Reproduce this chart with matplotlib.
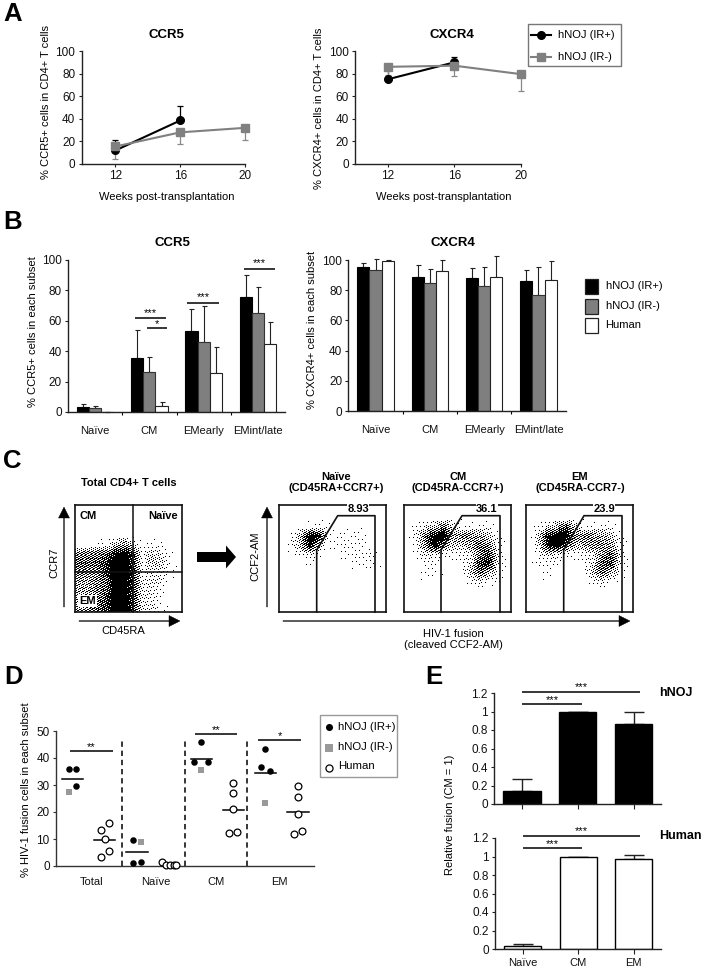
import numpy as np
import matplotlib
matplotlib.use("Agg")
import matplotlib.pyplot as plt
from matplotlib.patches import Rectangle, FancyArrow

plt.rcParams["font.family"] = ["Liberation Sans", "DejaVu Sans"]

W, H = 708, 969

#---------------------------------
# DATA
#---------------------------------

# A: time course
weeks = [12, 16, 20]
a_ccr5_pos = [12, 38.5]
a_ccr5_pos_top = [21, 51]
a_ccr5_neg = [15.5, 28, 32]
a_ccr5_neg_low = [4, 18, 21]
a_cxcr4_pos = [75, 90]
a_cxcr4_pos_top = [88, 95]
a_cxcr4_neg = [86, 87, 79.5]
a_cxcr4_neg_low = [79, 78, 65]

# B: subsets
b_labels = ["Naïve", "CM", "EMearly", "EMint/late"]
b_ccr5_pos = [3, 35.5, 53, 75.5]
b_ccr5_neg = [2.5, 26.5, 46, 65]
b_ccr5_hum = [0.3, 4, 25.5, 44.5]
b_ccr5_pos_top = [5.5, 54, 67.5, 90]
b_ccr5_neg_top = [4, 36.5, 69.5, 82]
b_ccr5_hum_top = [0.3, 6.5, 43, 59]
b_cxcr4_pos = [95.5, 89, 88, 86]
b_cxcr4_neg = [93.5, 85, 82.5, 77]
b_cxcr4_hum = [99.5, 92.5, 89, 87]
b_cxcr4_pos_top = [98, 96.5, 95, 93.5]
b_cxcr4_neg_top = [100.5, 94, 95.5, 95.5]
b_cxcr4_hum_top = [100, 100, 102.5, 99.5]

# C: dot density, 0 = empty, 9 = solid (rows top to bottom)
c_total = [
    [0, 0, 0, 0, 0, 0, 0, 0, 0, 0, 0, 0],
    [0, 0, 0, 0, 0, 0, 0, 0, 0, 0, 0, 0],
    [0, 0, 0, 0, 0, 0, 0, 0, 0, 0, 0, 0],
    [0, 0, 0, 0, 0, 0, 0, 0, 0, 0, 0, 0],
    [0, 0, 1, 1, 3, 5, 3, 0, 1, 1, 0, 0],
    [5, 5, 5, 6, 8, 9, 7, 1, 3, 2, 1, 0],
    [6, 6, 6, 7, 9, 9, 7, 1, 3, 3, 1, 0],
    [5, 5, 5, 7, 9, 9, 7, 1, 2, 2, 1, 0],
    [4, 4, 5, 6, 9, 9, 7, 2, 2, 2, 0, 0],
    [4, 4, 5, 6, 9, 9, 7, 2, 2, 1, 0, 0],
    [4, 4, 5, 7, 9, 9, 7, 2, 2, 1, 0, 0],
    [4, 5, 6, 7, 9, 9, 7, 2, 2, 1, 0, 0],
]
c_naive = [
    [0, 0, 0, 0, 0, 0, 0, 0, 0, 0, 0, 0],
    [0, 0, 0, 0, 0, 0, 0, 0, 0, 0, 0, 0],
    [0, 0, 0, 1, 1, 1, 0, 0, 0, 0, 0, 0],
    [0, 1, 4, 9, 8, 1, 1, 1, 1, 1, 0, 0],
    [0, 1, 4, 8, 3, 0, 1, 1, 1, 1, 0, 0],
    [0, 0, 1, 2, 1, 0, 0, 1, 1, 1, 1, 0],
    [0, 0, 0, 1, 0, 0, 0, 0, 1, 1, 1, 0],
    [0, 0, 0, 0, 0, 0, 0, 0, 0, 0, 0, 0],
    [0, 0, 0, 0, 0, 0, 0, 0, 0, 0, 0, 0],
    [0, 0, 0, 0, 0, 0, 0, 0, 0, 0, 0, 0],
    [0, 0, 0, 0, 0, 0, 0, 0, 0, 0, 0, 0],
    [0, 0, 0, 0, 0, 0, 0, 0, 0, 0, 0, 0],
]
c_cm = [
    [0, 0, 0, 0, 0, 0, 0, 0, 0, 0, 0, 0],
    [0, 0, 0, 0, 0, 0, 0, 0, 0, 0, 0, 0],
    [0, 1, 2, 3, 6, 2, 1, 1, 1, 1, 0, 0],
    [0, 2, 6, 9, 9, 4, 5, 5, 4, 3, 1, 0],
    [0, 1, 5, 9, 5, 3, 3, 4, 6, 5, 1, 0],
    [0, 1, 2, 2, 1, 1, 1, 2, 5, 7, 2, 0],
    [0, 0, 1, 1, 0, 0, 1, 2, 7, 8, 2, 0],
    [0, 0, 1, 1, 0, 0, 0, 3, 6, 4, 1, 0],
    [0, 0, 0, 0, 0, 0, 0, 1, 2, 1, 1, 0],
    [0, 0, 0, 0, 0, 0, 0, 0, 0, 0, 0, 0],
    [0, 0, 0, 0, 0, 0, 0, 0, 0, 0, 0, 0],
    [0, 0, 0, 0, 0, 0, 0, 0, 0, 0, 0, 0],
]
c_em = [
    [0, 0, 0, 0, 0, 0, 0, 0, 0, 0, 0, 0],
    [0, 0, 0, 0, 0, 0, 0, 0, 0, 0, 0, 0],
    [0, 1, 2, 4, 7, 3, 1, 1, 1, 1, 0, 0],
    [0, 3, 8, 9, 9, 5, 5, 5, 4, 3, 1, 0],
    [0, 2, 8, 9, 6, 3, 4, 5, 5, 4, 1, 0],
    [0, 1, 3, 2, 1, 1, 1, 2, 4, 6, 2, 0],
    [0, 1, 1, 1, 0, 0, 1, 2, 6, 7, 2, 0],
    [0, 0, 1, 0, 0, 0, 0, 3, 6, 4, 1, 0],
    [0, 0, 0, 0, 0, 0, 0, 1, 2, 1, 0, 0],
    [0, 0, 0, 0, 0, 0, 0, 0, 0, 0, 0, 0],
    [0, 0, 0, 0, 0, 0, 0, 0, 0, 0, 0, 0],
    [0, 0, 0, 0, 0, 0, 0, 0, 0, 0, 0, 0],
]
c_headers = ["Naïve\n(CD45RA+CCR7+)", "CM\n(CD45RA-CCR7+)", "EM\n(CD45RA-CCR7-)"]
c_gate_values = ["8.93", "36.1", "23.9"]

# D: fusion scatter, x in strip positions (axis runs 168..943)
d_labels = ["Total", "Naïve", "CM", "EM"]
d_label_x = [275, 467, 650, 838]
d_black_x = [206, 229, 229, 399, 399, 423, 604, 584, 624, 797, 785, 810]
d_black_y = [36, 36, 29.7, 9.7, 1, 1.6, 46, 38.4, 38.4, 43.2, 36.5, 35.2]
d_gray_x = [206, 423, 604, 797]
d_gray_y = [27.5, 8.9, 35.5, 23.5]
d_human_x = [326, 302, 314, 326, 302, 487, 498, 510, 522, 528,
             701, 701, 701, 689, 713, 895, 895, 895, 882, 907]
d_human_y = [15.8, 13.2, 10, 5.7, 3.3, 1.4, 0.3, 0.3, 0.3, 0.5,
             30.7, 27.2, 21, 12.3, 12.5, 29.5, 25.5, 19.4, 11.9, 13.1]
d_mean_x = [218, 314, 411, 605, 701, 797, 895]
d_mean_y = [32.4, 9.7, 5.3, 39.6, 20.7, 34.5, 19.9]

# E: relative fusion
e_labels = ["Naïve", "CM", "EM"]
e_hnoj = [0.145, 1, 0.87]
e_hnoj_top = [0.27, 1, 1.0]
e_human = [0.03, 1, 0.97]
e_human_top = [0.05, 1, 1.02]
e_ticks = [0, 0.2, 0.4, 0.6, 0.8, 1, 1.2]
e_ticklabels = ["0", "0.2", "0.4", "0.6", "0.8", "1", "1.2"]

#---------------------------------
# HELPERS
#---------------------------------

def axes_px(fig, x0, x1, y_top, y_bot):
	return fig.add_axes([x0/W, 1 - y_bot/H, (x1 - x0)/W, (y_bot - y_top)/H])


def clean_axes(ax, size=8.5, lw=1.0, color="#222222"):
	ax.spines["top"].set_visible(False)
	ax.spines["right"].set_visible(False)
	ax.spines["left"].set_linewidth(lw)
	ax.spines["bottom"].set_linewidth(lw)
	ax.spines["left"].set_color(color)
	ax.spines["bottom"].set_color(color)
	ax.tick_params(labelsize=size, length=2.5, width=0.8, pad=2, color=color, labelcolor="#111111")
	ax.patch.set_alpha(0)


def one_sided(ax, x, y, end, color, cap=2.2, lw=0.9):
	# error bars going from the mean to a single read end value
	y = np.array(y, dtype=float)
	end = np.array(end, dtype=float)
	low = np.clip(y - end, 0, None)
	up = np.clip(end - y, 0, None)
	cont = ax.errorbar(x, y, yerr=[low, up], fmt="none", ecolor=color, elinewidth=lw,
		capsize=cap, capthick=lw, zorder=1)
	for art in cont.lines[1] + cont.lines[2]:
		art.set_clip_on(False)


def sig_bar(ax, x0, x1, y, label, off=0.0):
	ax.plot([x0, x1], [y, y], color="k", lw=1.1, clip_on=False, solid_capstyle="butt")
	ax.text((x0 + x1)/2, y + off, label, ha="center", va="center", fontsize=8, clip_on=False)


def time_panel(fig, x0, x1, tx0, tx1, pos, pos_end, neg, neg_end):
	ax = axes_px(fig, x0, x1, 51, 164)
	clean_axes(ax)
	scale = (tx1 - tx0)/8.0
	ax.set_xlim(12 - (tx0 - x0)/scale, 20)
	ax.set_ylim(0, 100)
	one_sided(ax, weeks[:2], pos, pos_end, "k")
	one_sided(ax, weeks, neg, neg_end, "#888888")
	ax.plot(weeks[:2], pos, "-o", color="k", lw=1.5, ms=5.5, clip_on=False, zorder=3)
	ax.plot(weeks, neg, "-s", color="#808080", lw=1.5, ms=5.5, clip_on=False, zorder=4)
	ax.set_xticks(weeks)
	ax.set_yticks(range(0, 101, 20))
	return ax


def subset_panel(fig, x0, x1, y_top, y_bot, pos, neg, hum, pos_end, neg_end, hum_end):
	ax = axes_px(fig, x0, x1, y_top, y_bot)
	clean_axes(ax)
	x = np.arange(4)
	bw = 0.225
	ax.bar(x - bw, pos, bw, color="k", edgecolor="k", lw=0.8, zorder=2)
	ax.bar(x, neg, bw, color="#7f7f7f", edgecolor="#333333", lw=0.8, zorder=2)
	ax.bar(x + bw, hum, bw, color="white", edgecolor="#222222", lw=0.8, zorder=2)
	one_sided(ax, x - bw, pos, pos_end, "#222222", cap=1.8, lw=0.8)
	one_sided(ax, x, neg, neg_end, "#222222", cap=1.8, lw=0.8)
	one_sided(ax, x + bw, hum, hum_end, "#222222", cap=1.8, lw=0.8)
	ax.set_xlim(-0.5, 3.5)
	ax.set_ylim(0, 100)
	ax.set_yticks(range(0, 101, 20))
	ax.set_xticks(x)
	ax.set_xticklabels(b_labels, fontsize=8)
	ax.tick_params(axis="x", length=0, pad=10)
	ax.set_xticks([0.5, 1.5, 2.5], minor=True)
	ax.tick_params(axis="x", which="minor", length=2, width=0.8)
	return ax


def stipple(grid, nx, ny):
	# spread the read density over the panel pixels, then break it into dots with
	# a fixed low-discrepancy threshold, so the result is the same on every run
	g = (np.array(grid, dtype=float)/9.0)**1.4
	xs = (np.arange(nx) + 0.5)/nx*g.shape[1] - 0.5
	ys = (np.arange(ny) + 0.5)/ny*g.shape[0] - 0.5
	by_row = np.array([np.interp(xs, np.arange(g.shape[1]), r) for r in g])
	fine = np.array([np.interp(ys, np.arange(g.shape[0]), c) for c in by_row.T]).T
	jj, ii = np.meshgrid(np.arange(nx), np.arange(ny))
	limit = (jj*0.7548777 + ii*0.5698403) % 1.0
	return (fine > limit*0.92).astype(float)


def flow_panel(fig, x0, x1, grid, y_top=505, y_bot=612):
	ax = axes_px(fig, x0, x1, y_top, y_bot)
	ink = stipple(grid, int(x1 - x0), int(y_bot - y_top))
	ax.imshow(ink, cmap="Greys", vmin=0, vmax=1, aspect="auto", interpolation="nearest",
		extent=[x0, x1, y_bot, y_top])
	ax.set_xlim(x0, x1)
	ax.set_ylim(y_bot, y_top)
	ax.set_xticks([])
	ax.set_yticks([])
	for s in ax.spines.values():
		s.set_linewidth(1.2)
		s.set_color("#111111")
	return ax


def e_panel(fig, y_top, y_bot, x0, vals, ends, face, labels):
	ax = axes_px(fig, x0, 661, y_top, y_bot)
	clean_axes(ax, size=8.5)
	x = np.arange(3)
	ax.bar(x, vals, 0.67, color=face, edgecolor="k", lw=1.0, zorder=2)
	one_sided(ax, x, vals, ends, "#222222", cap=7, lw=1.0)
	ax.set_xlim(-0.5, 2.49)
	ax.set_ylim(0, 1.2)
	ax.set_yticks(e_ticks)
	ax.set_yticklabels(e_ticklabels)
	ax.set_xticks(x)
	if labels is None:
		ax.set_xticklabels([])
	else:
		ax.set_xticklabels(labels, fontsize=8)
	ax.tick_params(axis="x", length=3.5, pad=3)
	return ax

#---------------------------------
# FIGURE
#---------------------------------

fig = plt.figure(figsize=(W/100, H/100), dpi=100)

# page axes in pixels, for captions and arrows
page = fig.add_axes([0, 0, 1, 1], zorder=10)
page.set_xlim(0, W)
page.set_ylim(H, 0)
page.axis("off")


def label(x, y, s, **kw):
	kw.setdefault("ha", "center")
	kw.setdefault("va", "center")
	kw.setdefault("fontsize", 8)
	page.text(x, y, s, **kw)


for s, x, y in [("A", 3, 14), ("B", 3, 222), ("C", 3, 461), ("D", 4, 677), ("E", 425, 677)]:
	label(x, y, s, ha="left", fontsize=18.5, fontweight="bold")

# A
time_panel(fig, 81.5, 245, 115.4, 245, a_ccr5_pos, a_ccr5_pos_top, a_ccr5_neg, a_ccr5_neg_low)
time_panel(fig, 355, 521, 388, 521, a_cxcr4_pos, a_cxcr4_pos_top, a_cxcr4_neg, a_cxcr4_neg_low)
label(166, 35, "CCR5", fontsize=9.5, fontweight="bold")
label(452, 35, "CXCR4", fontsize=9.5, fontweight="bold")
label(167, 197, "Weeks post-transplantation")
label(444, 197, "Weeks post-transplantation")
label(46, 102, "% CCR5+ cells in CD4+ T cells", rotation=90)
label(319, 108, "% CXCR4+ cells in CD4+ T cells", rotation=90)

page.add_patch(Rectangle((528, 24), 93, 42, fc="white", ec="#777777", lw=1))
page.plot([531, 551], [35, 35], color="k", lw=1.5)
page.plot([541], [35], "o", color="k", ms=5.5)
page.plot([531, 551], [57, 57], color="#808080", lw=1.5)
page.plot([541], [57], "s", color="#808080", ms=5.5)
label(558, 35, "hNOJ (IR+)", ha="left")
label(558, 57, "hNOJ (IR-)", ha="left")

# B
ax = subset_panel(fig, 68, 285, 260, 412, b_ccr5_pos, b_ccr5_neg, b_ccr5_hum,
	b_ccr5_pos_top, b_ccr5_neg_top, b_ccr5_hum_top)
sig_bar(ax, 0.73, 1.31, 61.8, "***", 3.5)
sig_bar(ax, 0.95, 1.33, 55, "*", 3)
sig_bar(ax, 1.70, 2.28, 72, "***", 3.5)
sig_bar(ax, 2.74, 3.32, 94.3, "***", 3.5)
subset_panel(fig, 348.4, 565.6, 260, 411, b_cxcr4_pos, b_cxcr4_neg, b_cxcr4_hum,
	b_cxcr4_pos_top, b_cxcr4_neg_top, b_cxcr4_hum_top)
label(172, 243, "CCR5", fontsize=9.5, fontweight="bold")
label(453, 243, "CXCR4", fontsize=9.5, fontweight="bold")
label(33, 332, "% CCR5+ cells in each subset", rotation=90)
label(312, 330, "% CXCR4+ cells in each subset", rotation=90)

for y, fc, s in [(279, "k", "hNOJ (IR+)"), (299, "#7f7f7f", "hNOJ (IR-)"), (318, "white", "Human")]:
	page.add_patch(Rectangle((585, y), 13, 14.5, fc=fc, ec="#222222", lw=0.9))
	label(605.5, y + 7, s, ha="left")

# C
for x0, x1, grid in [(75, 182, c_total), (279, 386, c_naive), (404, 511, c_cm), (526, 633, c_em)]:
	flow_panel(fig, x0, x1, grid)

page.plot([133, 133], [505, 612], color="#111111", lw=1.1)
page.plot([75, 182], [572, 572], color="#111111", lw=1.1)
label(79, 516, "CM", ha="left", fontsize=8, fontweight="bold")
label(178, 516, "Naïve", ha="right", fontsize=8, fontweight="bold")
label(79, 601, "EM", ha="left", fontsize=8, fontweight="bold",
	bbox=dict(fc="white", ec="none", pad=1))
label(129, 483, "Total CD4+ T cells", fontsize=8, fontweight="bold")

for left, slant, right in [(316.7, 337.7, 375), (441, 462, 500), (563.7, 584, 622)]:
	page.plot([left, left, slant, right, right], [612, 550, 515.7, 515.7, 612], color="#111111", lw=1.2)
for x, s in zip([336, 458, 580], c_headers):
	label(x, 482.5, s, fontsize=8, fontweight="bold", linespacing=1.2)
for x, s in zip([358, 487, 604], c_gate_values):
	label(x, 509, s, fontsize=8, fontweight="bold",
		bbox=dict(fc="white", ec="none", pad=0.3))

for x0, y0, dx, dy in [(64, 607, 0, -100), (79, 621, 101, 0), (267, 607, 0, -100), (283, 621, 347, 0)]:
	page.add_patch(FancyArrow(x0, y0, dx, dy, width=0.7, head_width=11, head_length=11,
		length_includes_head=True, fc="k", ec="k", lw=0.3))
page.add_patch(FancyArrow(197, 557, 39, 0, width=10, head_width=23, head_length=10,
	length_includes_head=True, fc="k", ec="k", lw=0))
label(123, 631, "CD45RA")
label(54, 563, "CCR7", rotation=90)
label(255, 556, "CCF2-AM", rotation=90)
label(453, 634, "HIV-1 fusion")
label(453, 645.5, "(cleaved CCF2-AM)")

# D
ax = axes_px(fig, 56, 314, 731, 866)
clean_axes(ax, size=8.5, color="#333333")
ax.set_xlim(168, 943)
ax.set_ylim(0, 50)
ax.set_yticks(range(0, 51, 10))
ax.set_xticks(d_label_x)
ax.set_xticklabels(d_labels, fontsize=8)
ax.tick_params(axis="x", length=0, pad=8)
for x in [367, 554, 742]:
	ax.plot([x, x], [0, 46.9], color="k", lw=1.1, ls=(0, (3.5, 2.5)))
for x, y in zip(d_mean_x, d_mean_y):
	ax.plot([x - 32, x + 32], [y, y], color="k", lw=1.1)
ax.scatter(d_black_x, d_black_y, s=22, color="k", lw=0, zorder=3, clip_on=False)
ax.scatter(d_gray_x, d_gray_y, s=24, marker="s", color="#999999", lw=0, zorder=3, clip_on=False)
ax.scatter(d_human_x, d_human_y, s=24, facecolor="white", edgecolor="k", lw=0.9, zorder=3, clip_on=False)
sig_bar(ax, 211, 339, 42.5, "**", 1.5)
sig_bar(ax, 585, 713, 48.8, "**", 1.5)
sig_bar(ax, 776, 904, 46.7, "*", 1.5)
label(26, 790, "% HIV-1 fusion cells in each subset", rotation=90)

page.add_patch(Rectangle((320, 715), 77, 62, fc="white", ec="#999999", lw=1))
page.scatter([329], [727], s=26, color="k", lw=0)
page.scatter([329], [748], s=30, marker="s", color="#999999", lw=0)
page.scatter([329], [768], s=26, facecolor="white", edgecolor="k", lw=0.9)
label(338, 727, "hNOJ (IR+)", ha="left", fontsize=8.2)
label(338, 747, "hNOJ (IR-)", ha="left", fontsize=8.2)
label(338, 766, "Human", ha="left", fontsize=8.2)

# E
ax = e_panel(fig, 693, 804, 494, e_hnoj, e_hnoj_top, "k", None)
sig_bar(ax, 0, 2.12, 1.21, "***", 0.05)
sig_bar(ax, 0.01, 1.07, 1.08, "***", 0.04)
ax = e_panel(fig, 838, 949, 495, e_human, e_human_top, "white", e_labels)
sig_bar(ax, 0, 2.12, 1.225, "***", 0.05)
sig_bar(ax, 0.01, 1.07, 1.09, "***", 0.04)
label(659, 693, "hNOJ", ha="left", fontsize=9, fontweight="bold")
label(659, 836, "Human", ha="left", fontsize=9, fontweight="bold")
label(450, 815, "Relative fusion (CM = 1)", rotation=90, fontsize=8)

fig.savefig("out.png", dpi=100)
